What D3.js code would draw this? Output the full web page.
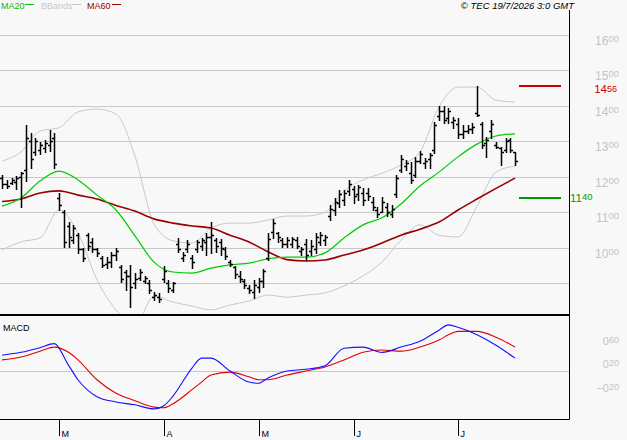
<!DOCTYPE html>
<html>
<head>
<meta charset="utf-8">
<script src="https://cdn.jsdelivr.net/npm/d3@7"></script>
<style>
body{margin:0;background:#f8f8f8;}
svg{display:block;font-family:"Liberation Sans",Arial,sans-serif;}
</style>
</head>
<body>
<div id="chart"></div>
<script>
// daily bars, one per trading day
const OPEN = [11.95,11.80,11.82,11.85,12.00,12.20,13.00,12.70,12.75,12.80,
 12.90,13.10,11.40,11.00,10.60,10.20,10.35,9.95,10.35,10.15,
 9.95,9.70,9.55,9.60,9.80,9.45,9.30,9.20,9.00,9.15,
 9.05,9.00,8.60,8.60,9.10,9.00,8.80,10.10,9.70,9.95,
 9.70,9.95,10.05,10.15,10.30,10.20,10.15,9.95,9.60,9.45,
 9.20,9.05,8.85,8.75,8.90,9.05,9.70,10.45,10.40,10.20,
 10.10,10.10,10.20,9.90,10.10,9.90,9.95,10.15,10.20,10.90,
 11.05,11.25,11.35,11.60,11.65,11.50,11.55,11.55,11.30,11.05,
 11.00,11.15,10.95,11.50,12.20,12.30,12.10,12.05,12.45,12.40,
 12.50,12.75,13.70,13.85,13.65,13.55,13.50,13.20,13.30,13.35,
 13.80,13.50,12.95,13.30,12.90,12.80,12.75,13.05,12.70];
const HIGH = [12.05,11.91,11.96,12.02,12.13,13.46,13.23,13.09,12.98,13.04,
 13.32,13.23,11.54,11.06,10.72,10.64,10.41,9.99,10.41,10.27,
 9.99,9.76,9.73,9.87,9.99,9.51,9.37,9.51,9.28,9.40,
 9.20,9.08,8.75,8.72,9.48,9.08,9.03,10.27,9.87,10.21,
 9.79,10.21,10.27,10.41,10.72,10.27,10.24,10.02,9.65,9.48,
 9.34,9.11,8.94,9.08,9.14,9.40,10.41,10.81,10.44,10.27,
 10.30,10.30,10.30,10.02,10.24,10.21,10.41,10.44,10.35,11.20,
 11.40,11.63,11.63,11.91,11.74,11.77,11.68,11.68,11.43,11.15,
 11.43,11.26,11.20,12.05,12.61,12.47,12.42,12.56,12.73,12.53,
 12.67,13.54,14.00,14.00,13.94,13.69,13.66,13.46,13.46,13.52,
 14.56,13.54,13.12,13.60,12.98,12.84,13.09,13.09,12.70];
const LOW = [11.68,11.68,11.79,11.65,11.15,11.88,12.25,12.61,12.64,12.70,
 12.73,12.25,11.06,10.02,10.02,10.13,9.85,9.62,9.93,9.88,
 9.76,9.45,9.42,9.45,9.65,9.03,8.80,8.32,8.86,9.08,
 9.00,8.72,8.52,8.46,9.03,8.75,8.75,9.88,9.62,9.88,
 9.42,9.88,9.93,9.79,9.85,9.88,9.79,9.68,9.48,9.14,
 9.03,8.86,8.72,8.58,8.75,8.89,9.65,10.27,10.16,10.02,
 10.02,10.02,9.99,9.79,9.65,9.79,9.85,10.07,10.07,10.78,
 10.92,11.15,11.20,11.48,11.26,11.34,11.20,11.34,11.06,10.86,
 11.00,10.89,10.86,11.43,12.13,12.19,11.82,11.99,12.39,12.25,
 12.25,12.67,13.60,13.52,13.52,13.38,13.09,13.09,13.23,13.23,
 13.71,12.81,12.56,13.09,12.81,12.33,12.70,12.70,12.33];
const CLOSE = [11.80,11.75,11.90,11.95,12.10,13.10,12.50,13.00,12.90,12.95,
 13.00,12.35,11.20,10.15,10.30,10.55,9.95,9.70,10.05,9.95,
 9.85,9.50,9.60,9.80,9.90,9.10,9.20,8.90,9.10,9.30,
 9.15,8.80,8.65,8.55,9.35,8.85,9.00,9.95,9.80,10.10,
 9.60,10.15,10.20,10.30,10.35,10.05,10.00,9.75,9.55,9.25,
 9.10,8.95,8.80,8.95,9.05,9.35,10.25,10.70,10.30,10.10,
 10.20,10.25,10.05,9.95,9.80,10.05,10.30,10.35,10.30,11.10,
 11.30,11.50,11.55,11.80,11.45,11.70,11.35,11.45,11.15,10.95,
 11.30,11.00,11.10,11.95,12.50,12.40,11.90,12.45,12.65,12.45,
 12.60,13.45,13.85,13.60,13.85,13.60,13.20,13.30,13.35,13.40,
 13.75,12.90,13.05,13.50,12.85,12.70,13.00,12.75,12.45];

// indicator lines, read every 4 bars
const LINE_IDX = [0,4,8,12,16,20,24,28,32,36,40,44,48,52,56,60,64,68,72,76,80,84,88,92,96,100,104,108];
const MA20 = [11.17,11.40,11.88,12.16,11.91,11.48,11.06,10.33,9.59,9.31,9.28,9.42,9.51,9.56,9.68,9.73,9.73,9.85,10.27,10.64,10.84,11.23,11.74,12.13,12.56,12.92,13.15,13.21];
const MA60 = [11.30,11.37,11.54,11.60,11.48,11.37,11.19,11.03,10.81,10.69,10.61,10.55,10.35,10.16,9.88,9.66,9.62,9.65,9.79,9.93,10.13,10.35,10.52,10.72,11.06,11.37,11.67,11.96];
const BB_UP = [12.44,12.70,13.29,13.38,13.83,13.91,13.77,12.58,10.67,10.19,10.13,10.55,10.69,10.69,10.78,10.89,10.89,11.00,11.60,11.91,12.10,12.33,12.70,13.97,14.53,14.53,14.16,14.11];
const BB_LOW = [9.93,10.16,10.27,11.06,10.41,9.09,8.24,7.81,8.63,8.46,8.35,8.24,8.38,8.49,8.66,8.60,8.66,8.72,8.92,9.20,9.59,10.21,10.64,10.35,10.30,11.17,12.13,12.30];

const MACD_IDX = [0,4,8,11,14,16,20,24,28,32,34,36,40,42,44,48,52,54,56,60,64,68,72,76,80,84,88,92,94,96,100,104,108];
const MACD = [0.27,0.32,0.40,0.47,0.10,-0.15,-0.44,-0.53,-0.58,-0.65,-0.60,-0.43,0.05,0.22,0.22,0.00,-0.19,-0.21,-0.12,0.00,0.03,0.09,0.39,0.41,0.32,0.41,0.51,0.70,0.79,0.75,0.62,0.44,0.22];
const SIGNAL = [0.19,0.24,0.34,0.41,0.32,0.19,-0.15,-0.38,-0.51,-0.62,-0.63,-0.56,-0.32,-0.19,-0.07,-0.02,-0.10,-0.15,-0.15,-0.07,0.00,0.07,0.19,0.32,0.36,0.34,0.41,0.53,0.62,0.68,0.68,0.58,0.41];

const MONTH_IDX = [12,34,54,74,96];
const MONTH_LABELS = ['M','A','M','J','J'];
const PRICE_GRID = [9,10,11,12,13,14,15,16];
const PRICE_TICKS = [10,11,12,13,14,15,16];
const MACD_TICKS = [0.6,0.2,-0.2];
const RESIST = 14.56, SUPPORT = 11.40;

const FRAME_W = 627, FRAME_H = 440;
const PLOT_R = 569;

const svg = d3.select('#chart').append('svg')
  .attr('width', FRAME_W).attr('height', FRAME_H);
svg.append('rect').attr('width', FRAME_W).attr('height', FRAME_H).attr('fill', '#f8f8f8');

const X = d3.scaleLinear().domain([0, HIGH.length - 1]).range([2, 515]);
const Y = d3.scaleLinear().domain([9, 16]).range([283, 35]);
const YM = d3.scaleLinear().domain([0, 0.6]).range([371, 336]);

// price value as "16" + raised "00"
function supText(g, v, x, y, color, anchor, big, small, lift) {
  const parts = d3.format('.2f')(v).split('.');
  const t = g.append('text').attr('x', x).attr('y', y).attr('fill', color)
    .attr('text-anchor', anchor || 'end');
  t.append('tspan').attr('font-size', (big || 12) + 'px').text(parts[0]);
  t.append('tspan').attr('font-size', (small || 9.5) + 'px').attr('dy', -(lift || 3)).text(parts[1]);
}

// grid
svg.append('g').selectAll('line').data(PRICE_GRID).join('line')
  .attr('x1', 0).attr('x2', PLOT_R)
  .attr('y1', d => Math.round(Y(d)) + 0.5).attr('y2', d => Math.round(Y(d)) + 0.5)
  .attr('stroke', '#c8c8c8');
svg.append('line').attr('x1', 0).attr('x2', PLOT_R)
  .attr('y1', Math.round(YM(0)) + 0.5).attr('y2', Math.round(YM(0)) + 0.5)
  .attr('stroke', '#c8c8c8');

const axisG = svg.append('g');
PRICE_TICKS.forEach(v => supText(axisG, v, 619, Y(v) + 10, '#c4c4c4'));
MACD_TICKS.forEach(v => supText(axisG, v, 619, YM(v) + 9, '#c4c4c4', 'end', 11, 9, 2));

// clip for price panel
svg.append('clipPath').attr('id', 'pclip').append('rect')
  .attr('x', 0).attr('y', 12).attr('width', PLOT_R).attr('height', 302);
svg.append('clipPath').attr('id', 'mclip').append('rect')
  .attr('x', 0).attr('y', 316).attr('width', PLOT_R).attr('height', 103);

const pg = svg.append('g').attr('clip-path', 'url(#pclip)');
const line = d3.line().x(d => X(d[0])).y(d => Y(d[1])).curve(d3.curveMonotoneX);

pg.append('path').datum(d3.zip(LINE_IDX, BB_UP)).attr('d', line)
  .attr('fill', 'none').attr('stroke', '#c8c8c8').attr('stroke-width', 1);
pg.append('path').datum(d3.zip(LINE_IDX, BB_LOW)).attr('d', line)
  .attr('fill', 'none').attr('stroke', '#c8c8c8').attr('stroke-width', 1);
pg.append('path').datum(d3.zip(LINE_IDX, MA60)).attr('d', line)
  .attr('fill', 'none').attr('stroke', '#990000').attr('stroke-width', 1.6);
pg.append('path').datum(d3.zip(LINE_IDX, MA20)).attr('d', line)
  .attr('fill', 'none').attr('stroke', '#00cc00').attr('stroke-width', 1.2);

// bars
pg.append('g').selectAll('path').data(d3.range(HIGH.length)).join('path')
  .attr('d', i => {
    const x = Math.round(X(i)) + 0.5;
    const yo = Math.round(Y(OPEN[i])) + 0.5, yc = Math.round(Y(CLOSE[i])) + 0.5;
    return 'M' + x + ',' + Math.round(Y(HIGH[i])) + 'V' + Math.round(Y(LOW[i]) + 1)
      + 'M' + (x - 2.5) + ',' + yo + 'H' + x
      + 'M' + x + ',' + yc + 'H' + (x + 2.5);
  })
  .attr('fill', 'none').attr('stroke', '#000').attr('stroke-width', 1.5);

// support / resistance
svg.append('line').attr('x1', 519).attr('x2', 561)
  .attr('y1', Y(RESIST)).attr('y2', Y(RESIST)).attr('stroke', '#cc0000').attr('stroke-width', 2);
supText(svg, RESIST, 617, Y(RESIST) + 6.5, '#cc0000', 'end', 11.5, 9, 0.5);
svg.append('line').attr('x1', 519).attr('x2', 561)
  .attr('y1', Y(SUPPORT)).attr('y2', Y(SUPPORT)).attr('stroke', '#009900').attr('stroke-width', 2);
supText(svg, SUPPORT, 570, Y(SUPPORT) + 4, '#009900', 'start', 11.5, 9.5, 1.5);

// MACD panel
const mg = svg.append('g').attr('clip-path', 'url(#mclip)');
const mline = d3.line().x(d => X(d[0])).y(d => YM(d[1])).curve(d3.curveMonotoneX);
mg.append('path').datum(d3.zip(MACD_IDX, SIGNAL)).attr('d', mline)
  .attr('fill', 'none').attr('stroke', '#e00000').attr('stroke-width', 1.1);
mg.append('path').datum(d3.zip(MACD_IDX, MACD)).attr('d', mline)
  .attr('fill', 'none').attr('stroke', '#1010ff').attr('stroke-width', 1.1);
svg.append('text').attr('x', 3).attr('y', 331).attr('font-size', '9px').attr('fill', '#000').text('MACD');

// frame
svg.append('line').attr('x1', 0).attr('x2', PLOT_R).attr('y1', 315).attr('y2', 315)
  .attr('stroke', '#000').attr('stroke-width', 2);
svg.append('line').attr('x1', 0).attr('x2', PLOT_R + 0.5).attr('y1', 419.5).attr('y2', 419.5)
  .attr('stroke', '#000');
svg.append('line').attr('x1', PLOT_R + 0.5).attr('x2', PLOT_R + 0.5).attr('y1', 10).attr('y2', 419.5)
  .attr('stroke', '#000');

// month ticks
const mt = svg.append('g').selectAll('g').data(MONTH_IDX).join('g')
  .attr('transform', d => 'translate(' + (Math.round(X(d)) + 0.5) + ',0)');
mt.append('line').attr('y1', 420).attr('y2', 436).attr('stroke', '#000');
mt.append('text').attr('x', 2).attr('y', 437).attr('font-size', '9px')
  .text((d, i) => MONTH_LABELS[i]);

// legend
const leg = [
  {t: 'MA20', c: '#00c000', x: 1, lx: 25},
  {t: 'BBands', c: '#c8c8c8', x: 41, lx: 72},
  {t: 'MA60', c: '#990000', x: 87, lx: 112}
];
const lg = svg.append('g').selectAll('g').data(leg).join('g');
lg.append('text').attr('x', d => d.x).attr('y', 9).attr('font-size', '9px')
  .attr('fill', d => d.c).text(d => d.t);
lg.append('line').attr('x1', d => d.lx).attr('x2', d => d.lx + 9)
  .attr('y1', 4.5).attr('y2', 4.5).attr('stroke', d => d.c);

svg.append('text').attr('x', 574).attr('y', 9).attr('text-anchor', 'end')
  .attr('font-size', '9.5px').attr('font-style', 'italic')
  .text('\u00a9 TEC 19/7/2026 3:0 GMT');
</script>
</body>
</html>
